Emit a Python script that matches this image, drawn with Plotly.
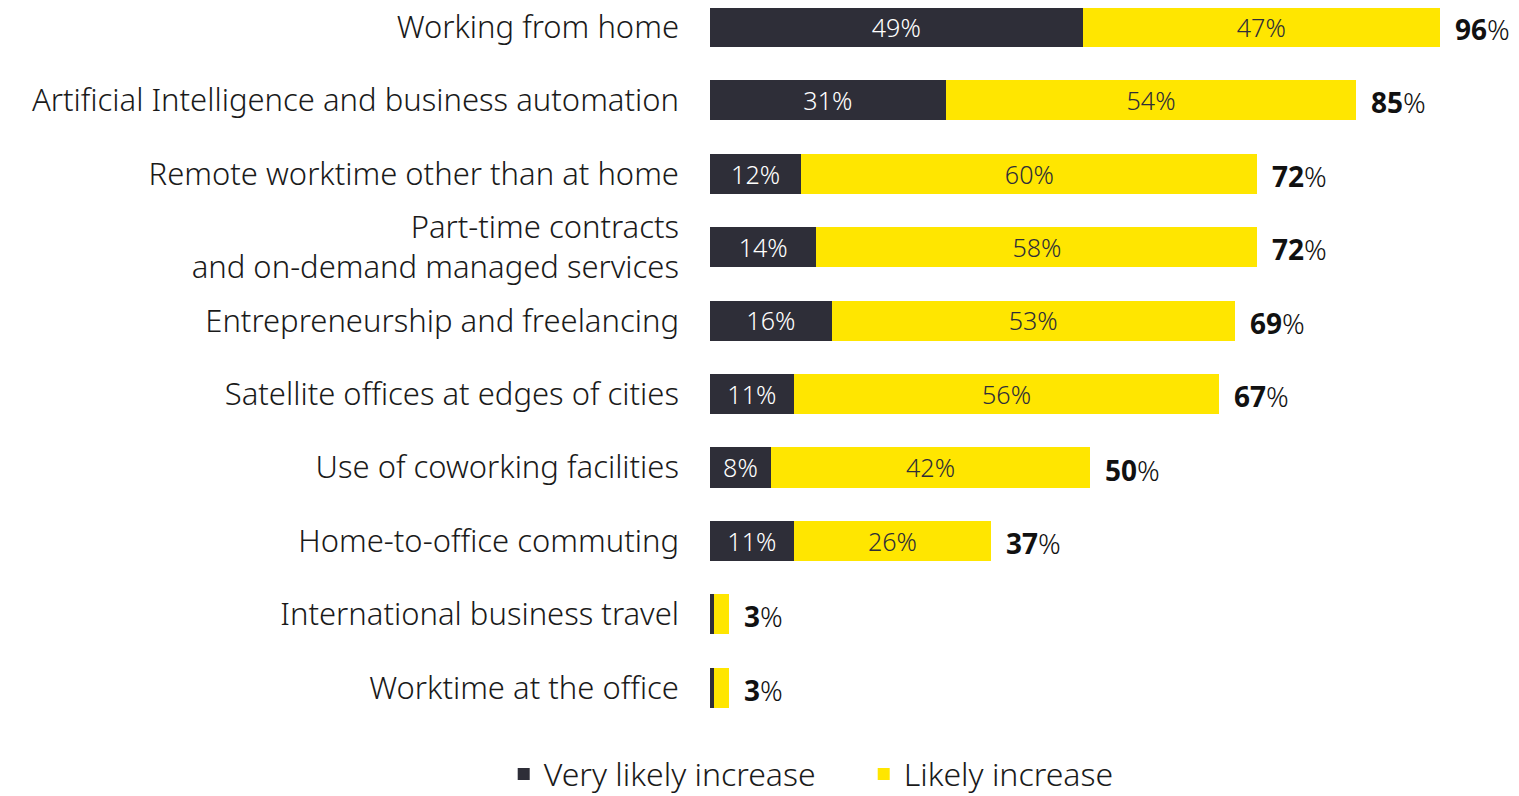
import plotly.graph_objects as go

categories = [
    "Working from home",
    "Artificial Intelligence and business automation",
    "Remote worktime other than at home",
    "Part-time contracts<br>and on-demand managed services",
    "Entrepreneurship and freelancing",
    "Satellite offices at edges of cities",
    "Use of coworking facilities",
    "Home-to-office commuting",
    "International business travel",
    "Worktime at the office",
]
very_likely = [49, 31, 12, 14, 16, 11, 8, 11, 0.5, 0.5]
likely = [47, 54, 60, 58, 53, 56, 42, 26, 2.0, 2.0]
totals = [96, 85, 72, 72, 69, 67, 50, 37, 3, 3]

dark = "#2E2E38"
yellow = "#FFE600"
font_family = "Noto Sans, DejaVu Sans, sans-serif"


def inside_labels(values):
    # no label inside the very thin bars
    return [f"{v:g}%" if v >= 5 else "" for v in values]


fig = go.Figure()
fig.add_trace(
    go.Bar(
        y=categories,
        x=very_likely,
        orientation="h",
        name="Very likely increase",
        marker=dict(color=dark, line=dict(width=0)),
        text=inside_labels(very_likely),
        textposition="inside",
        insidetextanchor="middle",
        textangle=0,
        textfont=dict(color="white", size=31, family=font_family, weight=300),
        hoverinfo="skip",
    )
)
fig.add_trace(
    go.Bar(
        y=categories,
        x=likely,
        orientation="h",
        name="Likely increase",
        marker=dict(color=yellow, line=dict(width=0)),
        text=inside_labels(likely),
        textposition="inside",
        insidetextanchor="middle",
        textangle=0,
        textfont=dict(color=dark, size=31, family=font_family, weight=300),
        hoverinfo="skip",
    )
)

# totals at the end of each bar
for cat, v, t in zip(categories, [a + b for a, b in zip(very_likely, likely)], totals):
    fig.add_annotation(
        x=v,
        y=cat,
        text=f"<b>{t}</b>%",
        showarrow=False,
        xanchor="left",
        xshift=13,
        yshift=-2,
        font=dict(size=28, color="#111111", family=font_family),
    )

fig.update_layout(
    barmode="stack",
    bargap=0.455,
    width=1519,
    height=796,
    margin=dict(l=702, r=8, t=0, b=84, autoexpand=False),
    plot_bgcolor="white",
    paper_bgcolor="white",
    font=dict(family=font_family, size=31, color="#1a1a1a", weight=300),
    uniformtext=dict(minsize=10, mode="show"),
    showlegend=True,
    legend=dict(
        orientation="h",
        traceorder="normal",
        x=-0.255,
        xanchor="left",
        y=-0.076,
        yanchor="middle",
        font=dict(size=32, color="#1a1a1a", weight=300),
        entrywidth=315,
        entrywidthmode="pixels",
        tracegroupgap=0,
    ),
)
fig.update_xaxes(range=[0, 106.4], visible=False, fixedrange=True)
fig.update_yaxes(
    categoryorder="array",
    categoryarray=categories,
    range=[9.44, -0.26],
    showgrid=False,
    showline=False,
    ticks="",
    ticklabelstandoff=30,
    tickfont=dict(size=31, color="#1a1a1a", weight=300),
)

fig.write_html("out.html")
